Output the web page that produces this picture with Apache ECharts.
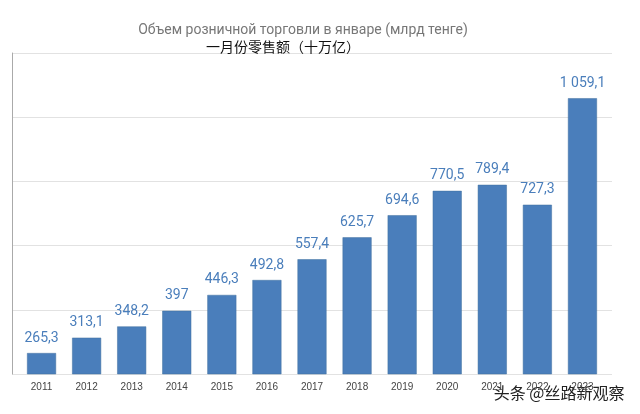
<!DOCTYPE html>
<html>
<head>
<meta charset="utf-8">
<script src="https://cdn.jsdelivr.net/npm/echarts@6/dist/echarts.min.js"></script>
<style>html,body{margin:0;padding:0;background:#fff}#c{width:640px;height:414px}</style>
</head>
<body>
<div id="c"></div>
<script>
const years = ['2011','2012','2013','2014','2015','2016','2017','2018','2019','2020','2021','2022','2023'];
const values = [265.3, 313.1, 348.2, 397, 446.3, 492.8, 557.4, 625.7, 694.6, 770.5, 789.4, 727.3, 1059.1];
const titleRu = 'Объем розничной торговли в январе (млрд тенге)';
const titleZh = '一月份零售额（十万亿）';
const watermark = '头条 @丝路新观察';

function fmt(v) {
  const parts = String(v).split('.');
  const int = parts[0].replace(/\B(?=(\d{3})+(?!\d))/g, ' ');
  return parts.length > 1 ? int + ',' + parts[1] : int;
}

const chart = echarts.init(document.getElementById('c'), null, {renderer: 'canvas'});
chart.setOption({
  animation: false,
  backgroundColor: '#fff',
  title: [
    {text: titleRu, left: 298, top: 18, textAlign: 'center',
     textStyle: {fontSize: 14, fontWeight: 'normal', color: '#777', fontFamily: 'Roboto, Arial, sans-serif'}},
    {text: titleZh, left: 278, top: 35, textAlign: 'center',
     textStyle: {fontSize: 14, fontWeight: 'normal', color: '#111', fontFamily: '"Noto Sans CJK SC", sans-serif'}}
  ],
  grid: [
    {left: 12, right: 28, top: 53, bottom: 40},
    {left: 19, right: 35, top: 53, bottom: 40}
  ],
  xAxis: [
    {type: 'value', gridIndex: 0, show: false, min: 0, max: 1},
    {type: 'category', gridIndex: 1, data: years,
     axisLine: {show: false}, axisTick: {show: false},
     axisLabel: {fontSize: 10, color: '#444', margin: 8, fontFamily: 'Arial, sans-serif'}}
  ],
  yAxis: [
    {type: 'value', gridIndex: 0, min: 200, max: 1200, interval: 200,
     axisLine: {show: true, lineStyle: {color: '#aaa', width: 1}},
     axisTick: {show: false}, axisLabel: {show: false},
     splitLine: {show: true, lineStyle: {color: '#e2e2e2', width: 1}}},
    {type: 'value', gridIndex: 1, min: 200, max: 1200, interval: 200, show: false,
     splitLine: {show: false}}
  ],
  series: [{
    type: 'bar',
    xAxisIndex: 1, yAxisIndex: 1,
    data: values,
    barWidth: 29,
    itemStyle: {color: '#4a7ebb', borderColor: '#41709f', borderWidth: 0.5},
    label: {show: true, position: 'top', distance: 8, fontSize: 14, color: '#4a7ebb',
            fontFamily: 'Roboto, Arial, sans-serif',
            formatter: p => fmt(p.value)}
  }],
  graphic: [{
    type: 'text', right: 14, bottom: 12,
    style: {text: watermark, fontSize: 16, fill: '#222', stroke: '#fff', lineWidth: 3,
            fontFamily: '"Noto Sans CJK SC", sans-serif'}
  }]
});
</script>
</body>
</html>
